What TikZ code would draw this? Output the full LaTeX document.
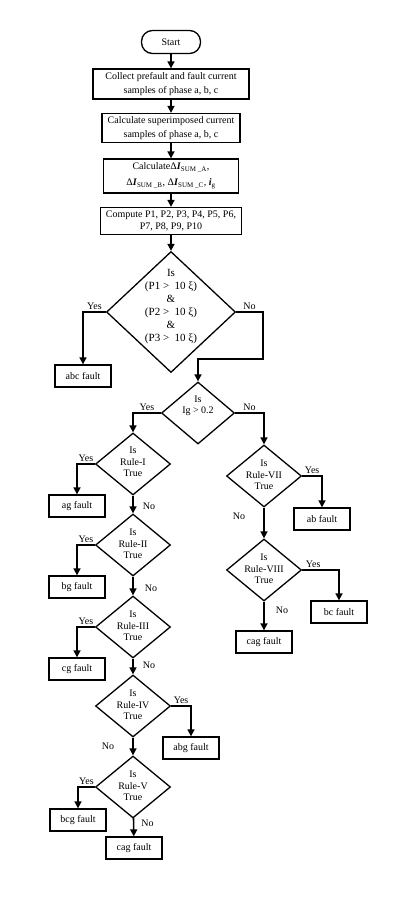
\documentclass[tikz,border=0pt]{standalone}
\usepackage{fontspec}
\setmainfont{Liberation Serif}
\usetikzlibrary{shapes.geometric, arrows.meta, positioning}
\tikzstyle{process} = [
    rectangle,
    draw=black,
    line width=1.3pt,
    text centered,
    align=center,
    inner sep=2pt,
    font=\fontsize{10}{13.5}\selectfont
]
\tikzstyle{terminal} = [process, rounded corners=11pt, minimum width=59pt, minimum height=23pt]
\tikzstyle{fault} = [process, minimum width=56pt, minimum height=22pt]
\tikzstyle{decision} = [
    diamond,
    draw=black,
    line width=1.3pt,
    inner sep=0pt,
    minimum width=75pt,
    minimum height=62pt
]
\tikzstyle{dtext} = [align=center, inner sep=0pt, font=\fontsize{10}{11.5}\selectfont]
\tikzstyle{answer} = [inner sep=2pt, font=\fontsize{10}{12}\selectfont]
\tikzstyle{arrow} = [
    line width=1.6pt,
    -{Triangle[length=7pt, width=7pt]}
]
\newcommand{\dsum}[1]{Δ\textbf{\textit{I}}\textsubscript{SUM \_#1}}

\begin{document}
\begin{tikzpicture}[x=1pt, y=-1pt]
        \useasboundingbox (0,0) rectangle (400,908);
        % Steps
        \node[terminal] (start) at (171,42) {Start};
        \node[process, minimum width=156pt, minimum height=30pt] (collect) at (171,84) {Collect prefault and fault current\\samples of phase a, b, c};
        \node[process, minimum width=138pt, minimum height=29pt] (superimp) at (171,128) {Calculate superimposed current\\samples of phase a, b, c};
        \node[process, minimum width=135pt, minimum height=34pt, font=\fontsize{10}{16}\selectfont] (calc) at (171,176) {Calculate\dsum{A},\\\dsum{B}, \dsum{C}, \textbf{\textit{i}}\textsubscript{g}};
        \node[process, minimum width=141pt, minimum height=27pt, font=\fontsize{10}{11.5}\selectfont] (compute) at (171,221) {Compute P1, P2, P3, P4, P5, P6,\\P7, P8, P9, P10};

        % Decisions
        \node[decision, minimum width=129pt, minimum height=121pt, label={[dtext, yshift=5pt, font=\fontsize{11}{13}\selectfont]center:Is\\(P1 >\ \ 10 ξ)\\\&\\(P2 >\ \ 10 ξ)\\\&\\(P3 >\ \ 10 ξ)}] (d1) at (171,312) {};
        \node[decision, minimum width=73pt, label={[dtext, yshift=7pt]center:Is\\Ig > 0.2}] (ig) at (198,413) {};
        \node[decision, label={[dtext, yshift=2pt]center:Is\\Rule-I\\True}] (r1) at (133,464) {};
        \node[decision, label={[dtext, yshift=1pt]center:Is\\Rule-II\\True}] (r2) at (133,545) {};
        \node[decision, label={[dtext, yshift=1pt]center:Is\\Rule-III\\True}] (r3) at (133,627) {};
        \node[decision, label={[dtext, yshift=1pt]center:Is\\Rule-IV\\True}] (r4) at (133,706) {};
        \node[decision, label={[dtext, yshift=1pt]center:Is\\Rule-V\\True}] (r5) at (133,787) {};
        \node[decision, label={[dtext, yshift=1pt]center:Is\\Rule-VII\\True}] (r7) at (264,476) {};
        \node[decision, label={[dtext, yshift=1pt]center:Is\\Rule-VIII\\True}] (r8) at (264,570) {};

        % Faults
        \node[fault] (abc) at (83,376) {abc fault};
        \node[fault] (ag) at (77,506) {ag fault};
        \node[fault] (bg) at (77,587) {bg fault};
        \node[fault] (cg) at (77,669) {cg fault};
        \node[fault] (abg) at (191,748) {abg fault};
        \node[fault] (bcg) at (78,820) {bcg fault};
        \node[fault] (cagl) at (134,848) {cag fault};
        \node[fault] (ab) at (322,519) {ab fault};
        \node[fault] (bc) at (339,612) {bc fault};
        \node[fault] (cagr) at (264,642) {cag fault};
        \coordinate (jump) at (263,359);

        % Arrows
        \draw[arrow] (start) -- (collect);
        \draw[arrow] (collect) -- (superimp);
        \draw[arrow] (superimp) -- (calc);
        \draw[arrow] (calc) -- (compute);
        \draw[arrow] (compute) -- (d1);
        \draw[arrow] (d1.west) -| node[answer, pos=0.25, above]{Yes} (abc);
        \draw[arrow] (d1.east) -| node[answer, pos=0.25, above]{No} (jump) -| (ig.north);
        \draw[arrow] (ig.west) -| node[answer, pos=0.25, above]{Yes} (r1.north);
        \draw[arrow] (ig.east) -| node[answer, pos=0.25, above]{No} (r7.north);
        \draw[arrow] (r1.west) -| node[answer, pos=0.25, above]{Yes} (ag);
        \draw[arrow] (r1) -- node[answer, pos=0.6, right=7pt]{No} (r2);
        \draw[arrow] (r2.west) -| node[answer, pos=0.25, above]{Yes} (bg);
        \draw[arrow] (r2) -- node[answer, pos=0.6, right=9pt]{No} (r3);
        \draw[arrow] (r3.west) -| node[answer, pos=0.25, above]{Yes} (cg);
        \draw[arrow] (r3) -- node[answer, pos=0.45, right=7pt]{No} (r4);
        \draw[arrow] (r4.east) -| node[answer, pos=0.25, above]{Yes} (abg);
        \draw[arrow] (r4) -- node[answer, pos=0.5, left=16pt]{No} (r5);
        \draw[arrow] (r5.west) -| node[answer, pos=0.25, above]{Yes} (bcg);
        \draw[arrow] (r5) -- node[answer, pos=0.3, right=5pt]{No} (cagl);
        \draw[arrow] (r7.east) -| node[answer, pos=0.25, above]{Yes} (ab);
        \draw[arrow] (r7) -- node[answer, pos=0.28, left=16pt]{No} (r8);
        \draw[arrow] (r8.east) -| node[answer, pos=0.15, above]{Yes} (bc);
        \draw[arrow] (r8) -- node[answer, pos=0.3, right=9pt]{No} (cagr);
    \end{tikzpicture}
\end{document}
